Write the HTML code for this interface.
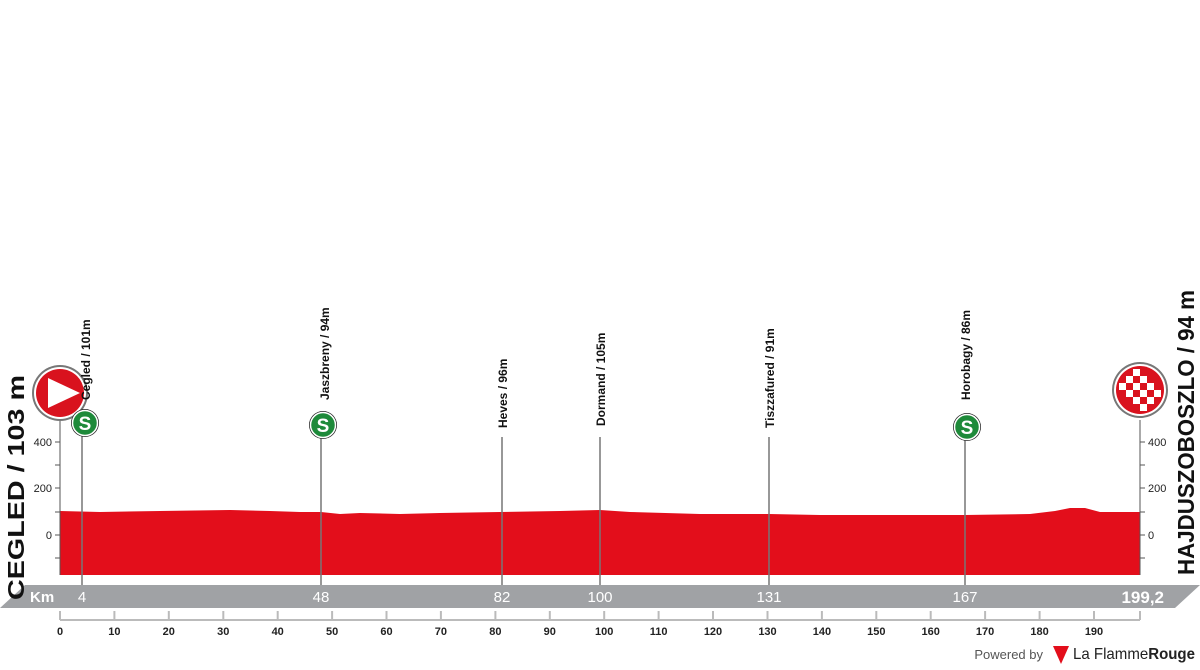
<!DOCTYPE html><html><head><style>body{margin:0;background:#fff}svg{display:block}text{font-family:"Liberation Sans",sans-serif}</style></head><body>
<svg width="1200" height="670" viewBox="0 0 1200 670">
<path d="M60,511 L100,512 L160,511 L230,510 L270,511 L300,512 L321,512 L340,514 L360,513 L400,514 L440,513 L500,512 L560,511 L600,510 L630,512 L700,514 L769,514 L820,515 L900,515 L965,515 L1030,514 L1055,511 L1070,508 L1085,508 L1100,512 L1140,512 L1140,575 L60,575 Z" fill="#e30e1b"/>
<g stroke="#555" stroke-width="1" fill="none">
<line x1="60" y1="420" x2="60" y2="575"/><line x1="1140" y1="420" x2="1140" y2="575"/>
<line x1="55" y1="442" x2="60" y2="442"/><line x1="55" y1="465" x2="60" y2="465"/><line x1="55" y1="488" x2="60" y2="488"/><line x1="55" y1="512" x2="60" y2="512"/><line x1="55" y1="535" x2="60" y2="535"/><line x1="55" y1="558" x2="60" y2="558"/>
<line x1="1140" y1="442" x2="1145" y2="442"/><line x1="1140" y1="465" x2="1145" y2="465"/><line x1="1140" y1="488" x2="1145" y2="488"/><line x1="1140" y1="512" x2="1145" y2="512"/><line x1="1140" y1="535" x2="1145" y2="535"/><line x1="1140" y1="558" x2="1145" y2="558"/>
</g>
<g font-size="11" fill="#222"><text x="52" y="446" text-anchor="end">400</text><text x="52" y="492" text-anchor="end">200</text><text x="52" y="539" text-anchor="end">0</text>
<text x="1148" y="446">400</text><text x="1148" y="492">200</text><text x="1148" y="539">0</text></g>
<polygon points="0,608 25,585 1200,585 1175,608" fill="#a0a2a5"/>
<g fill="#fff" font-weight="bold" font-size="15"><text x="30" y="602">Km</text><text x="82" y="602" text-anchor="middle" font-weight="normal">4</text><text x="321" y="602" text-anchor="middle" font-weight="normal">48</text><text x="502" y="602" text-anchor="middle" font-weight="normal">82</text><text x="600" y="602" text-anchor="middle" font-weight="normal">100</text><text x="769" y="602" text-anchor="middle" font-weight="normal">131</text><text x="965" y="602" text-anchor="middle" font-weight="normal">167</text><text x="1164" y="603" text-anchor="end" font-size="17">199,2</text></g>
<line x1="60" y1="620" x2="1140" y2="620" stroke="#bbb" stroke-width="2"/>
<g stroke="#bbb" stroke-width="2">
<line x1="60" y1="611" x2="60" y2="620"/><line x1="114.4" y1="611" x2="114.4" y2="620"/><line x1="168.8" y1="611" x2="168.8" y2="620"/><line x1="223.3" y1="611" x2="223.3" y2="620"/><line x1="277.7" y1="611" x2="277.7" y2="620"/><line x1="332.1" y1="611" x2="332.1" y2="620"/><line x1="386.5" y1="611" x2="386.5" y2="620"/><line x1="440.9" y1="611" x2="440.9" y2="620"/><line x1="495.4" y1="611" x2="495.4" y2="620"/><line x1="549.8" y1="611" x2="549.8" y2="620"/><line x1="604.2" y1="611" x2="604.2" y2="620"/><line x1="658.6" y1="611" x2="658.6" y2="620"/><line x1="713" y1="611" x2="713" y2="620"/><line x1="767.5" y1="611" x2="767.5" y2="620"/><line x1="821.9" y1="611" x2="821.9" y2="620"/><line x1="876.3" y1="611" x2="876.3" y2="620"/><line x1="930.7" y1="611" x2="930.7" y2="620"/><line x1="985.1" y1="611" x2="985.1" y2="620"/><line x1="1039.6" y1="611" x2="1039.6" y2="620"/><line x1="1094" y1="611" x2="1094" y2="620"/><line x1="1140" y1="611" x2="1140" y2="620"/>
</g>
<g font-size="11" font-weight="bold" fill="#222" text-anchor="middle">
<text x="60" y="635">0</text><text x="114.4" y="635">10</text><text x="168.8" y="635">20</text><text x="223.3" y="635">30</text><text x="277.7" y="635">40</text><text x="332.1" y="635">50</text><text x="386.5" y="635">60</text><text x="440.9" y="635">70</text><text x="495.4" y="635">80</text><text x="549.8" y="635">90</text><text x="604.2" y="635">100</text><text x="658.6" y="635">110</text><text x="713" y="635">120</text><text x="767.5" y="635">130</text><text x="821.9" y="635">140</text><text x="876.3" y="635">150</text><text x="930.7" y="635">160</text><text x="985.1" y="635">170</text><text x="1039.6" y="635">180</text><text x="1094" y="635">190</text>
</g>
<g stroke="#777" stroke-width="1.5">
<line x1="82" y1="420" x2="82" y2="585"/><line x1="321" y1="420" x2="321" y2="585"/><line x1="502" y1="437" x2="502" y2="585"/><line x1="600" y1="437" x2="600" y2="585"/><line x1="769" y1="437" x2="769" y2="585"/><line x1="965" y1="420" x2="965" y2="585"/>
</g>
<circle cx="60" cy="393" r="28" fill="#777"/><circle cx="60" cy="393" r="26" fill="#fff"/><circle cx="60" cy="393" r="24" fill="#d9121e"/>
<polygon points="48,378 48,408 80,393" fill="#fff"/>
<g font-size="12" font-weight="bold" fill="#111">
<text transform="translate(90,400) rotate(-90)">Cegled / 101m</text>
<text transform="translate(329,400) rotate(-90)">Jaszbreny / 94m</text>
<text transform="translate(507,428) rotate(-90)">Heves / 96m</text>
<text transform="translate(605,426) rotate(-90)">Dormand / 105m</text>
<text transform="translate(774,428) rotate(-90)">Tiszzafured / 91m</text>
<text transform="translate(970,400) rotate(-90)">Horobagy / 86m</text>
</g>
<g>
<circle cx="85" cy="423" r="14" fill="#222"/><circle cx="85" cy="423" r="12.5" fill="#1e8a3a" stroke="#fff" stroke-width="1.5"/><text x="85" y="430" text-anchor="middle" fill="#fff" font-weight="bold" font-size="19">S</text>
<circle cx="323" cy="425" r="14" fill="#222"/><circle cx="323" cy="425" r="12.5" fill="#1e8a3a" stroke="#fff" stroke-width="1.5"/><text x="323" y="432" text-anchor="middle" fill="#fff" font-weight="bold" font-size="19">S</text>
<circle cx="967" cy="427" r="14" fill="#222"/><circle cx="967" cy="427" r="12.5" fill="#1e8a3a" stroke="#fff" stroke-width="1.5"/><text x="967" y="434" text-anchor="middle" fill="#fff" font-weight="bold" font-size="19">S</text>
</g>
<circle cx="1140" cy="390" r="28" fill="#777"/><circle cx="1140" cy="390" r="26" fill="#fff"/><circle cx="1140" cy="390" r="24" fill="#d9121e"/>
<g fill="#fff">
<rect x="1133" y="369" width="7" height="7"/><rect x="1126" y="376" width="7" height="7"/><rect x="1140" y="376" width="7" height="7"/><rect x="1119" y="383" width="7" height="7"/><rect x="1133" y="383" width="7" height="7"/><rect x="1147" y="383" width="7" height="7"/><rect x="1126" y="390" width="7" height="7"/><rect x="1140" y="390" width="7" height="7"/><rect x="1154" y="390" width="7" height="7"/><rect x="1133" y="397" width="7" height="7"/><rect x="1147" y="397" width="7" height="7"/><rect x="1140" y="404" width="7" height="7"/>
</g>
<text transform="translate(24,600) rotate(-90)" font-size="23" font-weight="bold" fill="#111" textLength="225" lengthAdjust="spacingAndGlyphs">CEGLED / 103 m</text>
<text transform="translate(1194,575) rotate(-90)" font-size="23" font-weight="bold" fill="#111" textLength="285" lengthAdjust="spacingAndGlyphs">HAJDUSZOBOSZLO / 94 m</text>
<text x="1043" y="659" font-size="13" fill="#555" text-anchor="end">Powered by</text>
<polygon points="1053,646 1069,646 1061,664" fill="#e30e1b"/>
<text x="1073" y="659" font-size="16" fill="#222" textLength="122" lengthAdjust="spacingAndGlyphs">La Flamme<tspan font-weight="bold">Rouge</tspan></text>
</svg></body></html>
